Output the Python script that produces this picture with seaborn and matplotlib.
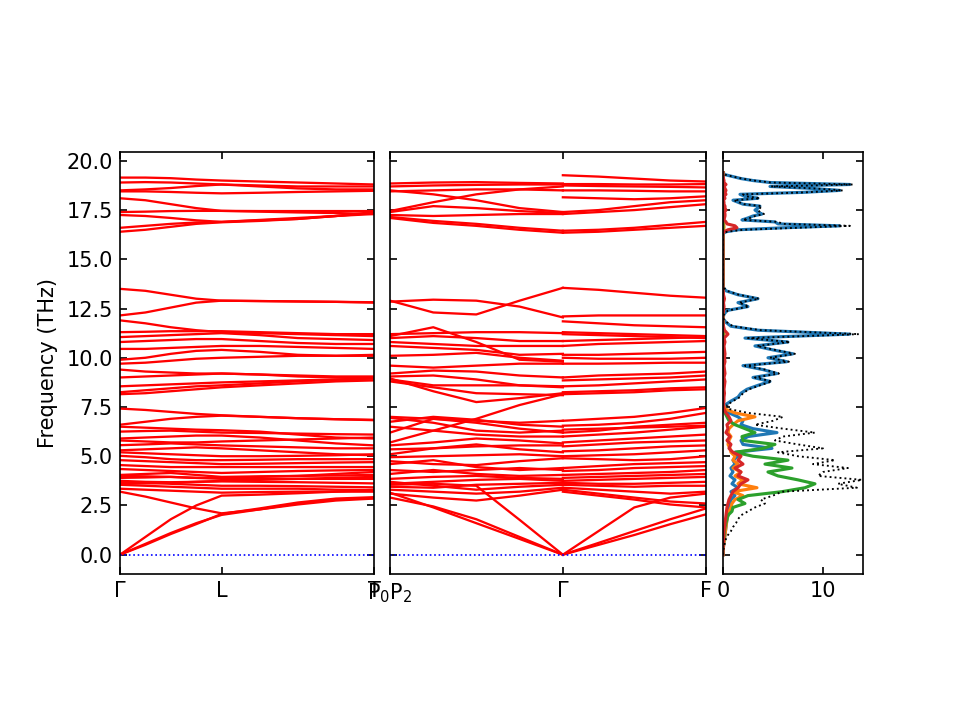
import matplotlib
matplotlib.use('Agg')
import pandas as pd
import seaborn as sns
import matplotlib.pyplot as plt

# k-path positions (fraction of each panel)
k_left = [0.0, 0.1, 0.2, 0.3, 0.4, 0.55, 0.7, 0.85, 1.0]
k_mid_p = [0.0, 0.137, 0.273, 0.41, 0.547]
k_mid_f = [0.547, 0.66, 0.773, 0.887, 1.0]

left_labels = ['Γ', 'L', 'T']
left_ticks = [0.0, 0.4, 1.0]
mid_labels = ['P$_0$P$_2$', 'Γ', 'F']
mid_ticks = [0.0, 0.547, 1.0]
freq_ticks = [0.0, 2.5, 5.0, 7.5, 10.0, 12.5, 15.0, 17.5, 20.0]

# Γ -> L -> T bands (THz)
left_bands = [
    [19.15, 19.15, 19.12, 19.05, 19.0, 18.95, 18.9, 18.85, 18.8],
    [18.9, 18.92, 18.9, 18.85, 18.8, 18.75, 18.7, 18.7, 18.7],
    [18.5, 18.55, 18.62, 18.72, 18.8, 18.7, 18.6, 18.55, 18.55],
    [18.45, 18.45, 18.42, 18.38, 18.35, 18.38, 18.42, 18.45, 18.48],
    [18.1, 18.0, 17.8, 17.6, 17.46, 17.45, 17.45, 17.45, 17.45],
    [17.4, 17.42, 17.45, 17.46, 17.46, 17.42, 17.38, 17.35, 17.3],
    [17.25, 17.2, 17.1, 16.98, 16.9, 17.0, 17.1, 17.2, 17.35],
    [16.6, 16.7, 16.8, 16.87, 16.9, 16.98, 17.05, 17.2, 17.4],
    [16.4, 16.5, 16.65, 16.8, 16.88, 16.95, 17.05, 17.2, 17.3],
    [13.5, 13.4, 13.2, 13.0, 12.9, 12.88, 12.86, 12.84, 12.82],
    [12.15, 12.3, 12.55, 12.8, 12.9, 12.88, 12.86, 12.84, 12.8],
    [11.9, 11.75, 11.55, 11.4, 11.3, 11.25, 11.2, 11.15, 11.1],
    [11.3, 11.32, 11.35, 11.35, 11.35, 11.3, 11.25, 11.2, 11.2],
    [11.05, 11.1, 11.15, 11.2, 11.25, 11.15, 11.0, 10.95, 10.9],
    [10.8, 10.85, 10.9, 10.95, 10.95, 10.85, 10.75, 10.7, 10.7],
    [10.45, 10.45, 10.5, 10.55, 10.6, 10.6, 10.55, 10.5, 10.45],
    [9.9, 10.0, 10.2, 10.35, 10.4, 10.3, 10.15, 10.1, 10.15],
    [9.7, 9.75, 9.85, 9.95, 10.0, 10.05, 10.1, 10.1, 10.1],
    [9.4, 9.3, 9.25, 9.2, 9.2, 9.15, 9.1, 9.05, 9.05],
    [9.0, 9.05, 9.1, 9.15, 9.2, 9.15, 9.05, 9.0, 9.0],
    [8.55, 8.6, 8.65, 8.7, 8.75, 8.8, 8.85, 8.9, 8.95],
    [8.25, 8.35, 8.45, 8.55, 8.6, 8.7, 8.8, 8.88, 8.95],
    [8.15, 8.2, 8.3, 8.4, 8.5, 8.6, 8.7, 8.8, 8.85],
    [7.42, 7.35, 7.25, 7.15, 7.08, 7.0, 6.93, 6.88, 6.85],
    [6.6, 6.75, 6.9, 7.0, 7.06, 7.0, 6.93, 6.88, 6.83],
    [6.5, 6.45, 6.4, 6.35, 6.32, 6.25, 6.1, 5.95, 5.9],
    [6.25, 6.28, 6.3, 6.25, 6.2, 6.18, 6.15, 6.12, 6.1],
    [5.9, 5.95, 6.0, 6.05, 6.05, 5.95, 5.8, 5.65, 5.55],
    [5.8, 5.75, 5.7, 5.7, 5.75, 5.8, 5.85, 5.9, 5.95],
    [5.56, 5.6, 5.65, 5.6, 5.55, 5.5, 5.45, 5.4, 5.4],
    [5.3, 5.35, 5.4, 5.45, 5.4, 5.3, 5.2, 5.1, 5.05],
    [5.2, 5.15, 5.1, 5.05, 5.0, 5.0, 5.02, 5.05, 5.1],
    [5.02, 4.95, 4.85, 4.8, 4.8, 4.82, 4.85, 4.85, 4.85],
    [4.8, 4.75, 4.7, 4.65, 4.6, 4.62, 4.65, 4.68, 4.7],
    [4.55, 4.5, 4.45, 4.45, 4.45, 4.45, 4.45, 4.45, 4.45],
    [4.35, 4.3, 4.25, 4.2, 4.15, 4.2, 4.25, 4.28, 4.3],
    [4.05, 4.1, 4.15, 4.05, 3.95, 3.98, 4.0, 4.02, 4.05],
    [4.0, 3.98, 3.95, 3.9, 3.9, 3.95, 4.0, 4.1, 4.2],
    [3.9, 3.92, 3.95, 3.9, 3.85, 3.85, 3.85, 3.85, 3.85],
    [3.75, 3.7, 3.68, 3.7, 3.72, 3.7, 3.68, 3.65, 3.62],
    [3.6, 3.62, 3.65, 3.7, 3.75, 3.8, 3.85, 3.9, 3.95],
    [3.7, 3.65, 3.6, 3.55, 3.5, 3.5, 3.48, 3.45, 3.42],
    [3.55, 3.5, 3.45, 3.4, 3.35, 3.35, 3.35, 3.3, 3.28],
    [3.35, 3.3, 3.25, 3.2, 3.15, 3.18, 3.2, 3.2, 3.2],
    [3.2, 2.95, 2.65, 2.35, 2.1, 2.3, 2.55, 2.75, 2.85],
    [0.0, 0.9, 1.8, 2.5, 3.0, 3.05, 3.12, 3.2, 3.3],
    [0.0, 0.5, 1.05, 1.55, 2.07, 2.35, 2.65, 2.85, 2.92],
    [0.0, 0.55, 1.1, 1.6, 2.02, 2.3, 2.6, 2.8, 2.88],
]

# P2 -> Γ bands
mid_p_bands = [
    [18.85, 18.9, 18.92, 18.88, 18.85],
    [18.7, 18.75, 18.78, 18.8, 18.8],
    [18.5, 18.3, 18.0, 17.6, 17.4],
    [18.45, 18.5, 18.55, 18.55, 18.5],
    [17.45, 17.9, 18.3, 18.55, 18.7],
    [17.4, 17.7, 17.6, 17.45, 17.35],
    [17.25, 17.2, 17.25, 17.3, 17.3],
    [17.15, 16.95, 16.8, 16.6, 16.45],
    [17.1, 16.85, 16.7, 16.5, 16.35],
    [12.9, 12.3, 12.2, 12.9, 13.55],
    [12.85, 12.95, 12.9, 12.6, 12.05],
    [11.1, 11.55, 10.8, 9.9, 9.8],
    [11.2, 11.25, 11.3, 11.3, 11.25],
    [11.0, 11.1, 11.0, 10.85, 10.85],
    [10.8, 10.7, 10.6, 10.6, 10.6],
    [10.6, 10.5, 10.4, 10.15, 10.2],
    [10.1, 10.15, 10.25, 10.0, 9.85],
    [9.6, 9.5, 9.6, 9.7, 9.7],
    [9.2, 9.35, 9.3, 9.1, 9.0],
    [9.05, 9.1, 8.9, 8.6, 8.5],
    [8.9, 8.6, 8.6, 8.6, 8.55],
    [8.95, 8.3, 7.75, 7.95, 8.2],
    [8.8, 8.5, 8.2, 8.15, 8.1],
    [7.0, 6.9, 6.8, 6.7, 6.8],
    [6.75, 7.0, 6.85, 6.6, 6.5],
    [5.7, 6.3, 6.9, 7.6, 8.15],
    [6.2, 6.9, 6.7, 6.4, 6.2],
    [6.5, 6.3, 6.1, 6.0, 6.0],
    [6.95, 6.7, 6.3, 6.2, 6.3],
    [5.55, 5.7, 5.9, 5.8, 5.65],
    [5.35, 5.4, 5.5, 5.55, 5.55],
    [5.1, 5.4, 5.6, 5.35, 5.2],
    [4.95, 5.0, 5.05, 5.1, 5.0],
    [4.75, 4.6, 4.55, 4.75, 4.9],
    [4.6, 4.8, 4.45, 4.3, 4.4],
    [4.3, 4.2, 4.3, 4.4, 4.3],
    [4.1, 4.3, 4.1, 4.0, 4.05],
    [3.85, 3.95, 4.0, 3.9, 3.85],
    [3.6, 3.7, 3.8, 3.85, 3.75],
    [3.45, 3.4, 3.55, 3.6, 3.65],
    [3.7, 3.5, 3.3, 3.45, 3.55],
    [3.3, 3.2, 3.1, 3.2, 3.4],
    [3.1, 2.9, 2.75, 3.0, 3.3],
    [3.55, 3.6, 3.5, 1.77, 0.0],
    [3.15, 2.4, 1.6, 0.8, 0.0],
    [2.9, 2.45, 1.8, 0.9, 0.0],
]

# Γ -> F bands
mid_f_bands = [
    [19.27, 19.2, 19.1, 19.0, 18.95],
    [18.82, 18.82, 18.8, 18.8, 18.82],
    [18.75, 18.72, 18.7, 18.68, 18.65],
    [18.5, 18.5, 18.48, 18.45, 18.45],
    [18.15, 18.1, 18.05, 18.1, 18.2],
    [17.4, 17.5, 17.7, 17.9, 18.0],
    [17.3, 17.4, 17.5, 17.65, 17.8],
    [16.45, 16.5, 16.6, 16.75, 16.9],
    [16.35, 16.4, 16.5, 16.6, 16.7],
    [13.55, 13.45, 13.3, 13.15, 13.05],
    [12.1, 12.15, 12.15, 12.15, 12.15],
    [11.85, 11.75, 11.65, 11.6, 11.55],
    [11.3, 11.25, 11.2, 11.15, 11.1],
    [11.2, 11.15, 11.1, 11.05, 11.0],
    [10.85, 10.9, 10.95, 11.0, 11.05],
    [10.6, 10.7, 10.75, 10.8, 10.85],
    [10.15, 10.15, 10.2, 10.25, 10.3],
    [10.0, 9.95, 9.95, 9.95, 10.0],
    [9.7, 9.7, 9.72, 9.75, 9.75],
    [9.0, 9.1, 9.15, 9.2, 9.3],
    [8.85, 8.9, 8.95, 9.0, 9.1],
    [8.55, 8.6, 8.7, 8.8, 8.9],
    [8.25, 8.3, 8.35, 8.45, 8.5],
    [8.15, 8.2, 8.25, 8.35, 8.4],
    [6.8, 6.9, 7.0, 7.2, 7.45],
    [6.55, 6.6, 6.7, 6.9, 7.2],
    [6.2, 6.3, 6.5, 6.6, 6.7],
    [6.0, 6.1, 6.2, 6.35, 6.5],
    [6.35, 6.4, 6.45, 6.5, 6.55],
    [5.7, 5.8, 5.9, 6.0, 6.1],
    [5.5, 5.6, 5.7, 5.75, 5.8],
    [5.25, 5.3, 5.4, 5.5, 5.55],
    [5.0, 5.05, 5.1, 5.2, 5.3],
    [4.9, 4.85, 4.8, 4.85, 5.0],
    [4.4, 4.5, 4.6, 4.65, 4.7],
    [4.25, 4.3, 4.4, 4.45, 4.5],
    [4.05, 4.1, 4.15, 4.2, 4.3],
    [3.9, 3.95, 4.0, 4.05, 4.1],
    [3.75, 3.8, 3.85, 3.9, 3.95],
    [3.65, 3.6, 3.6, 3.65, 3.7],
    [3.55, 3.5, 3.45, 3.5, 3.5],
    [3.4, 3.3, 3.2, 3.1, 3.2],
    [3.3, 3.1, 2.9, 2.7, 2.6],
    [3.2, 3.0, 2.8, 2.55, 2.4],
    [0.0, 1.2, 2.4, 2.9, 3.1],
    [0.0, 0.6, 1.2, 1.8, 2.35],
    [0.0, 0.5, 1.0, 1.55, 2.05],
]

# phonon DOS: sampling frequencies and values
dos_freq = [
    0.0, 0.2, 0.4, 0.6, 0.8, 1.0, 1.2, 1.4, 1.6, 1.8,
    2.0, 2.2, 2.4, 2.6, 2.8, 3.0, 3.2, 3.4, 3.6, 3.8,
    4.0, 4.2, 4.4, 4.6, 4.8, 5.0, 5.2, 5.4, 5.6, 5.8,
    6.0, 6.2, 6.4, 6.6, 6.8, 7.0, 7.2, 7.4, 7.6, 7.8,
    8.0, 8.2, 8.4, 8.6, 8.8, 9.0, 9.2, 9.4, 9.6, 9.8,
    10.0, 10.2, 10.4, 10.6, 10.8, 11.0, 11.2, 11.4, 11.6, 11.8,
    12.0, 12.2, 12.4, 12.6, 12.8, 13.0, 13.2, 13.4, 13.6,
    16.3, 16.4, 16.5, 16.6, 16.7, 16.8, 16.9, 17.0, 17.1, 17.2,
    17.3, 17.4, 17.5, 17.6, 17.7, 17.8, 17.9, 18.0, 18.1, 18.2,
    18.3, 18.4, 18.5, 18.6, 18.7, 18.8, 18.9, 19.0, 19.1, 19.2,
    19.3, 19.4,
]
dos_blue = [
    0.0, 0.0, 0.05, 0.1, 0.15, 0.2, 0.25, 0.3, 0.35, 0.4,
    0.5, 0.5, 0.6, 0.7, 0.8, 1.2, 0.8, 1.5, 0.9, 1.2,
    0.7, 1.0, 0.8, 1.2, 1.0, 1.5, 1.2, 4.9, 2.0, 1.8,
    2.5, 5.4, 3.0, 1.8, 2.0, 1.5, 0.6, 0.1, 0.2, 0.8,
    1.5, 1.8, 2.4, 3.5, 4.7, 3.0, 5.4, 4.0, 2.0, 6.4,
    4.5, 7.0, 5.0, 3.2, 6.5, 2.2, 12.7, 3.5, 0.8, 0.3,
    0.0, 0.1, 0.4, 2.5, 1.5, 3.5, 1.5, 0.3, 0.0,
    0.0, 0.3, 1.5, 6.0, 11.7, 5.5, 5.2, 1.9, 2.5, 3.0,
    3.9, 3.5, 3.2, 3.5, 3.7, 2.0, 1.5, 1.0, 3.5, 2.2,
    1.7, 8.0, 11.7, 8.9, 4.7, 12.7, 4.7, 3.0, 1.8, 1.0,
    0.2, 0.0,
]
dos_orange = [
    0.0, 0.0, 0.05, 0.1, 0.15, 0.2, 0.25, 0.3, 0.35, 0.4,
    0.5, 0.6, 0.8, 0.9, 1.2, 2.0, 1.0, 3.4, 1.5, 2.0,
    1.2, 1.8, 1.0, 1.5, 1.0, 1.2, 0.8, 0.7, 0.5, 0.6,
    0.8, 0.5, 0.6, 1.0, 1.5, 3.2, 1.2, 0.2, 0.05, 0.05,
    0.05, 0.05, 0.05, 0.05, 0.05, 0.05, 0.05, 0.05, 0.05, 0.05,
    0.05, 0.05, 0.05, 0.05, 0.05, 0.05, 0.1, 0.05, 0.02, 0.0,
    0.0, 0.0, 0.02, 0.05, 0.02, 0.05, 0.02, 0.0, 0.0,
    0.0, 0.0, 0.05, 0.1, 0.1, 0.05, 0.02, 0.02, 0.02, 0.02,
    0.02, 0.02, 0.02, 0.02, 0.02, 0.02, 0.02, 0.02, 0.02, 0.02,
    0.02, 0.05, 0.05, 0.05, 0.02, 0.05, 0.02, 0.02, 0.02, 0.0,
    0.0, 0.0,
]
dos_green = [
    0.0, 0.0, 0.02, 0.05, 0.08, 0.12, 0.15, 0.2, 0.3, 0.4,
    0.5, 0.9, 1.0, 2.2, 1.5, 2.5, 5.9, 8.2, 9.2, 7.5,
    5.5, 4.5, 6.9, 4.2, 6.5, 3.0, 1.2, 4.0, 5.2, 2.0,
    1.9, 3.2, 2.2, 1.2, 0.6, 0.4, 0.2, 0.05, 0.0, 0.0,
    0.0, 0.0, 0.0, 0.0, 0.0, 0.0, 0.0, 0.0, 0.0, 0.0,
    0.0, 0.0, 0.0, 0.0, 0.0, 0.0, 0.0, 0.0, 0.0, 0.0,
    0.0, 0.0, 0.0, 0.0, 0.0, 0.0, 0.0, 0.0, 0.0,
    0.0, 0.0, 0.0, 0.0, 0.0, 0.0, 0.0, 0.0, 0.0, 0.0,
    0.0, 0.0, 0.0, 0.0, 0.0, 0.0, 0.0, 0.0, 0.0, 0.0,
    0.0, 0.0, 0.0, 0.0, 0.0, 0.0, 0.0, 0.0, 0.0, 0.0,
    0.0, 0.0,
]
dos_red = [
    0.0, 0.0, 0.02, 0.04, 0.06, 0.08, 0.1, 0.15, 0.2, 0.25,
    0.3, 0.35, 0.4, 0.5, 0.6, 0.8, 1.0, 1.5, 1.8, 2.5,
    1.5, 1.8, 1.2, 2.0, 1.5, 1.8, 1.0, 0.6, 0.8, 0.4,
    0.7, 0.3, 0.5, 0.4, 0.8, 0.6, 0.3, 0.1, 0.05, 0.1,
    0.1, 0.15, 0.1, 0.15, 0.2, 0.1, 0.2, 0.15, 0.1, 0.2,
    0.15, 0.2, 0.15, 0.1, 0.2, 0.1, 0.5, 0.15, 0.05, 0.0,
    0.0, 0.0, 0.05, 0.1, 0.05, 0.15, 0.05, 0.02, 0.0,
    0.0, 0.1, 0.5, 1.4, 1.2, 0.4, 0.3, 0.1, 0.15, 0.2,
    0.2, 0.15, 0.3, 0.2, 0.2, 0.1, 0.1, 0.05, 0.2, 0.1,
    0.3, 0.2, 0.3, 0.2, 0.1, 0.3, 0.1, 0.1, 0.05, 0.02,
    0.0, 0.0,
]
dos_total = [
    0.0, 0.02, 0.1, 0.2, 0.3, 0.5, 0.8, 1.0, 1.3, 1.5,
    1.8, 2.5, 3.2, 4.2, 3.8, 5.0, 5.9, 13.4, 11.5, 13.9,
    9.5, 10.0, 12.5, 9.0, 11.2, 7.5, 5.5, 10.0, 7.5, 5.2,
    6.0, 9.2, 6.0, 3.2, 5.0, 6.0, 2.5, 0.6, 0.4, 1.0,
    1.7, 2.0, 2.6, 3.7, 4.9, 3.2, 5.6, 4.2, 2.2, 6.6,
    4.7, 7.2, 5.2, 3.4, 6.7, 2.5, 13.6, 3.8, 1.0, 0.4,
    0.0, 0.1, 0.5, 2.6, 1.6, 3.6, 1.6, 0.4, 0.0,
    0.0, 0.4, 2.0, 7.4, 12.7, 6.0, 5.5, 2.0, 2.7, 3.2,
    4.1, 3.7, 3.5, 3.7, 3.9, 2.1, 1.6, 1.1, 3.7, 2.3,
    2.0, 8.2, 12.0, 9.1, 4.8, 13.0, 4.8, 3.1, 1.9, 1.0,
    0.2, 0.0,
]


def band_frame(bands, kpos, tag):
    rows = []
    for i, band in enumerate(bands):
        for k, f in zip(kpos, band):
            rows.append({'band': f'{tag}{i}', 'k': k, 'freq': f})
    return pd.DataFrame(rows)


df_left = band_frame(left_bands, k_left, 'a')
df_mid = pd.concat([band_frame(mid_p_bands, k_mid_p, 'p'),
                    band_frame(mid_f_bands, k_mid_f, 'f')])

fig = plt.figure(figsize=(6.4, 4.8), dpi=150)
ax1 = fig.add_axes([0.125, 0.2028, 0.2646, 0.5861])
ax2 = fig.add_axes([0.40625, 0.2028, 0.3292, 0.5861])
ax3 = fig.add_axes([0.7531, 0.2028, 0.1458, 0.5861])

ylim = (-0.98, 20.45)

for ax, df, ticks, labels in [(ax1, df_left, left_ticks, left_labels),
                              (ax2, df_mid, mid_ticks, mid_labels)]:
    sns.lineplot(data=df, x='k', y='freq', units='band', estimator=None,
                 sort=False, color='red', linewidth=1.1, ax=ax)
    ax.axhline(0, color='b', linestyle=':', linewidth=0.8)
    ax.set_xlim(0, 1)
    ax.set_xticks(ticks)
    ax.set_xticklabels(labels)
    ax.set_xlabel('')
    ax.set_ylabel('')

ax1.set_ylabel('Frequency (THz)')

for series, col in [(dos_blue, 'C0'), (dos_orange, 'C1'),
                    (dos_green, 'C2'), (dos_red, 'C3')]:
    sns.lineplot(x=series, y=dos_freq, orient='y', estimator=None, sort=False,
                 color=col, linewidth=1.5, ax=ax3)
sns.lineplot(x=dos_total, y=dos_freq, orient='y', estimator=None, sort=False,
             color='k', linestyle=':', linewidth=0.9, zorder=5, ax=ax3)
ax3.set_xlim(0, 14)
ax3.set_xticks([0, 10])
ax3.set_xlabel('')
ax3.set_ylabel('')

for ax in (ax1, ax2, ax3):
    ax.set_ylim(*ylim)
    ax.set_yticks(freq_ticks)
    ax.tick_params(direction='in', top=True, right=True)
ax1.set_yticklabels([f'{t:.1f}' for t in freq_ticks])
ax2.tick_params(labelleft=False)
ax3.tick_params(labelleft=False)

fig.savefig('out.png', dpi=150)
